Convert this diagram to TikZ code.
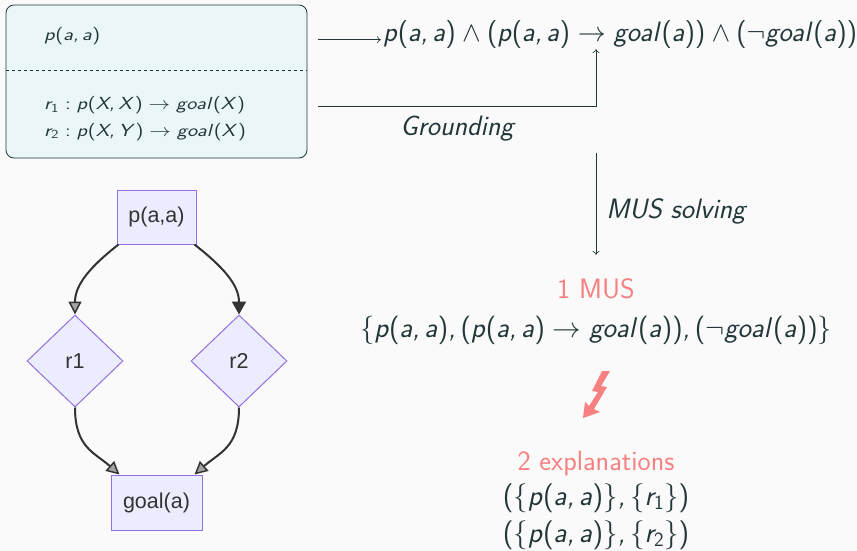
\documentclass[tikz,border=0pt]{standalone}
\usepackage{fix-cm}
\usepackage[no-math]{fontspec}
\newfontfamily\merfont{Liberation Sans}
\renewcommand\familydefault{\sfdefault}
\usetikzlibrary{arrows.meta,shapes.geometric,calc}
\DeclareSymbolFont{operators}{OT1}{cmss}{m}{n}
\DeclareSymbolFont{letters}{OT1}{cmss}{m}{sl}
\mathcode`\,="612C
\definecolor{mdark}{HTML}{23373B}
\definecolor{bgc}{HTML}{FAFAFA}
\definecolor{boxfill}{HTML}{EAF6F8}
\definecolor{alertc}{HTML}{F78080}
\definecolor{merfill}{HTML}{ECECFF}
\definecolor{merstroke}{HTML}{9370DB}
\definecolor{merline}{HTML}{333333}
\newcommand{\wide}[1]{\scalebox{1.23}[1]{#1}}
\tikzset{
  big/.style={font=\fontsize{28}{32}\selectfont, text=mdark, inner sep=0pt},
  bigmath/.style={font=\fontsize{28.5}{33}\selectfont, text=mdark, inner sep=0pt},
  expmath/.style={font=\fontsize{29}{33}\selectfont, text=mdark, inner sep=0pt},
  small/.style={font=\fontsize{17.5}{20}\selectfont, text=mdark, inner sep=0pt},
  arr/.style={draw=mdark, line width=0.6pt, -{To[length=4pt,width=7pt]}},
  mrect/.style={draw=merstroke, fill=merfill, line width=1pt, inner sep=0pt, text=merline, font=\merfont\fontsize{21.5}{25}\selectfont},
  mdia/.style={diamond, draw=merstroke, fill=merfill, line width=1pt, inner sep=0pt, minimum width=96pt, minimum height=92pt, text=merline, font=\merfont\fontsize{21.5}{25}\selectfont},
  medge/.style={draw=merline, line width=2pt},
  mtipopen/.style={-{Triangle[length=13pt, width=13pt, fill=merline!45, line width=1.5pt]}},
  mtipfill/.style={-{Triangle[length=13pt, width=14pt]}},
}
\begin{document}
\begin{tikzpicture}[x=1pt, y=-1pt]
\fill[bgc] (0,0) rectangle (857,551);
\useasboundingbox (0,0) rectangle (857,551);
% source box
\node[draw=mdark, fill=boxfill, rounded corners=8pt, line width=0.8pt, minimum width=301pt, minimum height=153pt, inner sep=0pt] (src) at (156.5,81.5) {};
\draw[mdark, dashed, line width=0.6pt] (src.west |- 0,70) -- (src.east |- 0,70);
\node[small, anchor=base west] (fact) at (44,41) {\wide{$p(a, a)$}};
\node[small, anchor=base west] (rA) at (44,110) {\wide{$r_1 : p(X, X) \rightarrow goal(X)$}};
\node[small, anchor=base west] (rB) at (44,136) {\wide{$r_2 : p(X, Y) \rightarrow goal(X)$}};
% formula
\node[font=\fontsize{28}{32}\selectfont, text=mdark, anchor=base west, inner sep=2pt] (F) at (381,42) {$p(a, a) \wedge (p(a, a) \rightarrow goal(a)) \wedge (\neg goal(a))$};
\coordinate (fs) at (318,0);
\draw[arr] (fs |- F.mid) -- (F.mid west);
\coordinate (gs) at (318,106);
\coordinate (gt) at (596,49);
\draw[arr] (gs) -| (gt) node[pos=0.25, below=10pt, big] {\itshape Grounding};
\coordinate (ms) at (596,153);
\coordinate (me) at (596,255);
\draw[arr] (ms) -- (me) node[pos=0.57, right=10pt, big] {\itshape MUS solving};
% MUS
\node[big, anchor=base, text=alertc] (mus) at (596,298) {1 MUS};
\node[bigmath, anchor=base] (musset) at (596,337) {$\{p(a, a), (p(a, a) \rightarrow goal(a)), (\neg goal(a))\}$};
\fill[alertc] (602,371) -- (610,371) -- (601,386) -- (607,387) -- (594,409) -- (600,412) -- (583,418) -- (585,402) -- (589,406) -- (598,392) -- (592,391) -- cycle;
\node[big, anchor=base, text=alertc] (expl) at (596,470) {2 explanations};
\node[expmath, anchor=base] (e1) at (596,505) {$(\{p(a, a)\}, \{r_1\})$};
\node[expmath, anchor=base] (e2) at (596,542) {$(\{p(a, a)\}, \{r_2\})$};
% mermaid
\node[mrect, minimum width=79pt, minimum height=54pt] (P) at (156.5,217) {p(a,a)};
\node[mdia] (R1) at (75,361) {r1};
\node[mdia] (R2) at (239,361) {r2};
\node[mrect, minimum width=91pt, minimum height=55pt] (G) at (156.5,502.5) {goal(a)};
\draw[medge, mtipopen] ([xshift=2pt]P.south west) .. controls +(-28,22) and +(0,-30) .. (R1.north);
\draw[medge, mtipfill] ([xshift=-2pt]P.south east) .. controls +(28,22) and +(0,-30) .. (R2.north);
\draw[medge, mtipopen] (R1.south) .. controls +(0,40) and +(-25,-22) .. ([xshift=9pt]G.north west);
\draw[medge, mtipopen] (R2.south) .. controls +(0,40) and +(25,-22) .. ([xshift=-8pt]G.north east);
\end{tikzpicture}
\end{document}
